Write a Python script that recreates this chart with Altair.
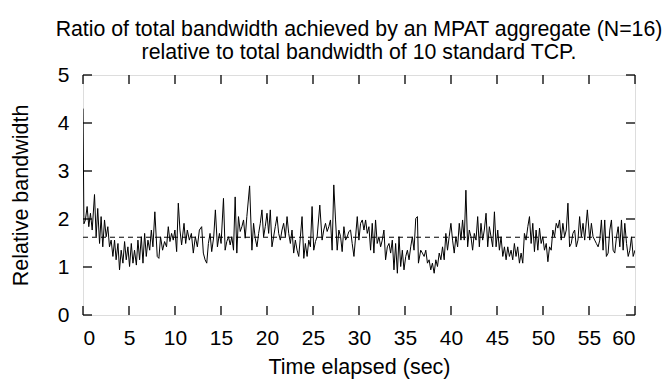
import altair as alt
import pandas as pd

# Time (sec) / relative bandwidth in segments
t_a = [0, 0.1, 0.26, 0.45, 0.63, 0.81, 1.0, 1.25, 1.43, 1.6, 1.8, 1.97, 2.15, 2.34, 2.52, 2.7, 2.88, 3.06, 3.25, 3.43, 3.6, 3.8, 3.97, 4.15, 4.34, 4.52, 4.7, 4.88, 5.06, 5.25, 5.43, 5.6, 5.8, 5.97, 6.15, 6.34, 6.52, 6.7, 6.88, 7.06, 7.25, 7.43]
v_a = [4.3, 1.9, 1.98, 2.26, 1.84, 2.12, 1.77, 2.51, 1.63, 2.22, 1.49, 2.05, 1.42, 1.98, 1.63, 1.84, 1.42, 1.56, 1.22, 1.56, 1.15, 1.49, 0.94, 1.35, 1.08, 1.53, 1.15, 1.42, 1.01, 1.49, 1.08, 1.35, 1.04, 1.56, 1.15, 1.63, 1.08, 1.70, 1.22, 1.56, 1.35, 1.77]

t_b = [7.6, 7.81, 8.07, 8.25, 8.43, 8.65, 8.87, 9.08, 9.27, 9.45, 9.63, 9.81, 9.99, 10.18, 10.36, 10.54, 10.72, 10.98, 11.16, 11.34, 11.56, 11.78, 11.99, 12.21, 12.43, 12.65, 12.9, 13.08, 13.27, 13.45, 13.63, 13.81, 13.99, 14.21, 14.39, 14.61, 14.83, 15.01]
v_b = [1.42, 2.15, 1.22, 1.18, 1.63, 1.35, 1.53, 1.42, 1.84, 1.53, 1.70, 1.56, 1.77, 1.32, 2.33, 1.77, 1.46, 1.91, 1.49, 1.77, 1.56, 1.70, 1.29, 1.63, 1.42, 1.77, 1.84, 1.29, 1.15, 1.08, 1.49, 1.70, 1.32, 1.63, 2.19, 1.42, 1.70, 1.49]

t_c = [15.27, 15.45, 15.63, 15.82, 16.0, 16.18, 16.36, 16.54, 16.72, 16.9, 17.09, 17.27, 17.45, 17.63, 17.81, 18.11, 18.36, 18.54, 18.72, 18.91, 19.09, 19.27, 19.45, 19.63, 19.81, 20.0, 20.18, 20.36, 20.54, 20.72, 20.9, 21.09, 21.27, 21.45, 21.63, 21.81, 22.0, 22.18, 22.36, 22.54, 22.72]
v_c = [2.43, 1.35, 1.53, 1.63, 1.46, 1.63, 1.35, 2.46, 1.29, 2.05, 1.74, 1.84, 1.98, 1.60, 2.05, 2.69, 1.35, 1.91, 1.60, 1.42, 1.70, 1.91, 2.19, 1.63, 1.84, 2.12, 1.70, 2.19, 1.42, 1.63, 1.84, 2.05, 1.70, 1.56, 1.77, 1.91, 1.63, 2.05, 1.70, 1.49, 1.77]

t_d = [22.9, 23.08, 23.27, 23.45, 23.63, 23.81, 24.0, 24.17, 24.36, 24.54, 24.72, 24.9, 25.08, 25.27, 25.45, 25.74, 25.99, 26.17, 26.36, 26.54, 26.72, 26.9, 27.08, 27.26, 27.45, 27.63, 27.81, 28.0, 28.17, 28.36, 28.54, 28.72, 28.9, 29.08, 29.26, 29.45, 29.63, 29.81, 29.99, 30.17, 30.36, 30.54, 30.72, 30.9]
v_d = [1.29, 1.56, 1.35, 1.22, 1.63, 2.05, 1.18, 1.49, 1.22, 1.56, 1.42, 2.26, 1.35, 1.53, 1.63, 2.29, 1.56, 1.77, 1.91, 1.74, 1.84, 1.98, 1.35, 2.71, 1.98, 1.35, 1.77, 1.63, 1.32, 1.84, 1.56, 1.63, 1.74, 1.77, 1.49, 1.22, 1.63, 2.05, 1.56, 1.91, 1.98, 1.77, 1.98, 1.70]

t_e = [31.08, 31.26, 31.44, 31.62, 31.8, 31.98, 32.17, 32.35, 32.53, 32.71, 32.89, 33.08, 33.26, 33.44, 33.62, 33.8, 33.98, 34.17, 34.35, 34.53, 34.71, 34.89, 35.08, 35.26, 35.44, 35.62, 35.8, 35.98, 36.17, 36.35, 36.46, 36.71, 36.89, 37.08, 37.26, 37.44, 37.62, 37.8, 37.98]
v_e = [1.84, 1.35, 1.91, 1.29, 1.98, 1.49, 1.63, 1.42, 1.56, 1.77, 1.15, 1.42, 1.49, 1.29, 1.56, 0.94, 1.49, 0.87, 1.63, 1.01, 1.35, 0.94, 1.22, 1.35, 1.15, 1.42, 1.63, 1.35, 2.01, 2.05, 1.08, 1.35, 1.29, 1.22, 1.35, 1.08, 1.15, 0.94, 1.08]

t_f = [38.17, 38.35, 38.53, 38.72, 38.9, 39.08, 39.26, 39.44, 39.62, 39.8, 39.99, 40.17, 40.35, 40.53, 40.72, 40.9, 41.08, 41.26, 41.44, 41.62, 41.81, 41.99, 42.17, 42.35, 42.53, 42.72, 42.9, 43.08, 43.26, 43.44, 43.62, 43.81, 43.99, 44.17, 44.35, 44.53, 44.72, 44.9, 45.08, 45.26, 45.44, 45.63, 45.81, 45.99, 46.17]
v_f = [0.87, 1.15, 1.01, 1.29, 1.15, 1.42, 1.15, 1.70, 1.35, 1.63, 1.91, 1.56, 1.29, 1.63, 1.42, 1.91, 1.56, 1.98, 1.56, 2.60, 1.42, 1.77, 1.63, 1.35, 1.70, 1.56, 2.05, 1.42, 1.91, 1.56, 1.77, 2.12, 1.42, 1.84, 1.63, 1.42, 2.15, 1.42, 1.77, 1.35, 1.63, 1.22, 1.42, 1.15, 1.42]

t_g = [46.35, 46.53, 46.71, 46.89, 47.07, 47.25, 47.44, 47.62, 47.8, 47.98, 48.16, 48.35, 48.53, 48.71, 48.89, 49.07, 49.25, 49.44, 49.62, 49.8, 49.98, 50.16, 50.35, 50.53, 50.71, 50.89, 51.07, 51.25, 51.44, 51.62, 51.8, 51.98, 52.16, 52.35, 52.53, 52.71, 52.89, 53.07, 53.25, 53.44, 53.62, 53.8]
v_g = [1.22, 1.35, 1.15, 1.49, 1.22, 1.42, 1.08, 1.29, 1.08, 1.70, 1.56, 1.84, 2.05, 1.49, 1.91, 1.32, 1.77, 1.35, 1.81, 1.49, 1.63, 1.35, 1.49, 1.11, 1.42, 1.35, 1.77, 1.63, 1.91, 1.81, 1.98, 1.56, 1.91, 1.63, 1.77, 2.33, 1.42, 1.49, 1.70, 1.77, 1.42, 1.56]

t_h = [53.98, 54.17, 54.35, 54.53, 54.82, 55.08, 55.26, 55.44, 55.62, 55.8, 55.99, 56.17, 56.35, 56.53, 56.71, 56.89, 57.08, 57.26, 57.44, 57.62, 57.8, 57.99, 58.17, 58.35, 58.53, 58.71, 58.89, 59.08, 59.26, 59.44, 59.62, 59.8, 60.0]
v_h = [2.05, 1.63, 1.91, 1.56, 2.19, 1.56, 1.91, 1.63, 1.56, 1.49, 1.42, 1.56, 1.98, 1.35, 1.98, 1.22, 1.29, 1.77, 1.98, 1.35, 1.29, 1.63, 1.84, 1.42, 1.98, 1.35, 1.91, 1.49, 1.22, 1.35, 1.63, 1.22, 1.35]

mean_level = 1.62
x_ticks = [0, 5, 10, 15, 20, 25, 30, 35, 40, 45, 50, 55, 60]
y_ticks = [0, 1, 2, 3, 4, 5]

TITLE = ["Ratio of total bandwidth achieved by an MPAT aggregate (N=16)",
         "relative to total bandwidth of 10 standard TCP."]
FONT = "Liberation Sans"
W, H = 552, 240

times = t_a + t_b + t_c + t_d + t_e + t_f + t_g + t_h
vals = v_a + v_b + v_c + v_d + v_e + v_f + v_g + v_h
df = pd.DataFrame({"t": times, "v": vals})
xt = pd.DataFrame({"t": x_ticks})
yt = pd.DataFrame({"v": y_ticks})

xs = alt.Scale(domain=[0, 60], nice=False, zero=False)
ys = alt.Scale(domain=[0, 5], nice=False)

xaxis = alt.Axis(values=x_ticks, ticks=False, domain=False, grid=False,
                 labelFontSize=21, labelPadding=12, labelColor="black", labelFont=FONT,
                 title="Time elapsed (sec)", titleFontSize=21.5, titleFont=FONT,
                 titleFontWeight="normal", titleColor="black", titlePadding=8)
yaxis = alt.Axis(values=y_ticks, ticks=False, domain=False, grid=False,
                 labelFontSize=21, labelPadding=14, labelColor="black", labelFont=FONT,
                 title="Relative bandwidth", titleFontSize=21.5, titleFont=FONT,
                 titleFontWeight="normal", titleColor="black", titlePadding=25)

line = alt.Chart(df).mark_line(color="black", strokeWidth=1, clip=True).encode(
    x=alt.X("t:Q", scale=xs, axis=xaxis),
    y=alt.Y("v:Q", scale=ys, axis=yaxis),
)

mean = alt.Chart(pd.DataFrame({"v": [mean_level]})).mark_rule(
    color="black", strokeWidth=1, strokeDash=[5, 4]).encode(
    y=alt.Y("v:Q", scale=ys), x=alt.value(0), x2=alt.value(W))

tb = alt.Chart(xt).mark_rule(color="black", strokeWidth=1.3).encode(
    x=alt.X("t:Q", scale=xs), y=alt.value(H), y2=alt.value(H - 9))
tt = alt.Chart(xt).mark_rule(color="black", strokeWidth=1.3).encode(
    x=alt.X("t:Q", scale=xs), y=alt.value(0), y2=alt.value(9))
tl = alt.Chart(yt).mark_rule(color="black", strokeWidth=1.3).encode(
    y=alt.Y("v:Q", scale=ys), x=alt.value(0), x2=alt.value(9))
tr = alt.Chart(yt).mark_rule(color="black", strokeWidth=1.3).encode(
    y=alt.Y("v:Q", scale=ys), x=alt.value(W), x2=alt.value(W - 9))

chart = alt.layer(mean, tb, tt, tl, tr, line).properties(
    width=W, height=H,
    title=alt.TitleParams(TITLE, fontSize=21.3, font=FONT, fontWeight="normal",
                          color="black", anchor="middle", frame="group",
                          offset=1, lineHeight=23),
    autosize=alt.AutoSizeParams(type="none"),
    padding={"left": 75, "top": 67, "right": 29, "bottom": 64},
).configure_view(stroke="black", strokeWidth=2).configure(background="white")

chart.save("out.html", embed_options={"renderer": "svg", "actions": False})
